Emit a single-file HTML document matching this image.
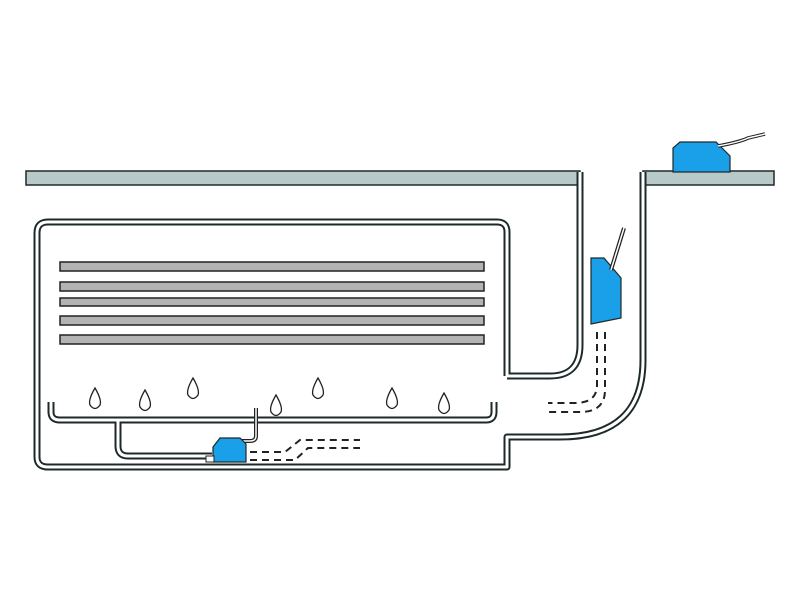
<!DOCTYPE html><html><head><style>body{margin:0;background:#fff}svg{display:block}</style></head><body>
<svg width="800" height="600" viewBox="0 0 800 600" xmlns="http://www.w3.org/2000/svg">
<rect width="800" height="600" fill="#fff"/>
<g fill="#b7c9c9" stroke="#1e2a2a" stroke-width="1.5">
<rect x="26" y="171" width="554" height="14"/>
<rect x="643" y="171" width="131" height="14"/>
</g>
<g fill="none" stroke-linejoin="round">
<g stroke="#1e2a2a" stroke-width="7">
<path d="M580,172 V345 Q580,376 550,376 H507"/>
<path d="M507,376 V232 Q507,222 497,222 H48 Q37,222 37,233 V457 Q37,467 48,467 H507 V437 H560 Q643,437 643,360 V172"/>
<path d="M51,402 V412 Q51,420 60,420 H486 Q494,420 494,412 V402"/>
<path d="M118,420 V446 Q118,456 128,456 H212"/>
</g>
<g stroke="#fff" stroke-width="3">
<path d="M580,172 V345 Q580,376 550,376 H507"/>
<path d="M507,376 V232 Q507,222 497,222 H48 Q37,222 37,233 V457 Q37,467 48,467 H507 V437 H560 Q643,437 643,360 V172"/>
<path d="M51,402 V412 Q51,420 60,420 H486 Q494,420 494,412 V402"/>
<path d="M118,420 V446 Q118,456 128,456 H212"/>
</g>
</g>
<g fill="#b3b3b3" stroke="#222" stroke-width="1.5">
<rect x="60" y="262" width="424" height="9"/>
<rect x="60" y="282" width="424" height="9"/>
<rect x="60" y="298" width="424" height="8"/>
<rect x="60" y="316" width="424" height="9"/>
<rect x="60" y="335" width="424" height="9"/>
</g>
<g fill="none" stroke="#222" stroke-width="1.3">
<path d="M95,388 Q88,400 90,405 Q95,412 100,405 Q102,400 95,388Z"/>
<path d="M145,390 Q138,402 140,407 Q145,414 150,407 Q152,402 145,390Z"/>
<path d="M193,378 Q186,390 188,395 Q193,402 198,395 Q200,390 193,378Z"/>
<path d="M276,395 Q269,407 271,412 Q276,419 281,412 Q283,407 276,395Z"/>
<path d="M318,378 Q311,390 313,395 Q318,402 323,395 Q325,390 318,378Z"/>
<path d="M392,388 Q385,400 387,405 Q392,412 397,405 Q399,400 392,388Z"/>
<path d="M444,393 Q437,405 439,410 Q444,417 449,410 Q451,405 444,393Z"/>
</g>
<g fill="none" stroke="#222" stroke-width="2" stroke-dasharray="7,5">
<path d="M250,452 H285 L300,440 H360"/>
<path d="M250,460 H295 L308,448 H360"/>
<path d="M597,332 V385 Q597,403 575,403 H548"/>
<path d="M605,332 V390 Q605,412 580,412 H548"/>
</g>
<path d="M256,408 V436 Q256,441 250,441 H240" fill="none" stroke="#222" stroke-width="4"/>
<path d="M256,408 V436 Q256,441 250,441 H240" fill="none" stroke="#fff" stroke-width="1.5"/>
<g stroke="#1e2a2a" stroke-width="1.2" fill="#1aa0e8">
<path d="M213,447 L220,438 H240 L246,444 V462 H213Z"/>
<path d="M591,258 H604 L621,278 V318 L591,324Z"/>
<path d="M673,172 V148 L680,142 H716 L730,156 V172Z"/>
</g>
<rect x="206" y="456" width="8" height="6" fill="#fff" stroke="#222"/>
<path d="M611,270 L624,228" stroke="#222" stroke-width="4" fill="none"/>
<path d="M611,270 L624,228" stroke="#fff" stroke-width="1.5" fill="none"/>
<path d="M718,146 Q740,142 748,138 L765,134" stroke="#222" stroke-width="3.5" fill="none"/>
<path d="M718,146 Q740,142 748,138 L765,134" stroke="#fff" stroke-width="1.5" fill="none"/>
</svg></body></html>
